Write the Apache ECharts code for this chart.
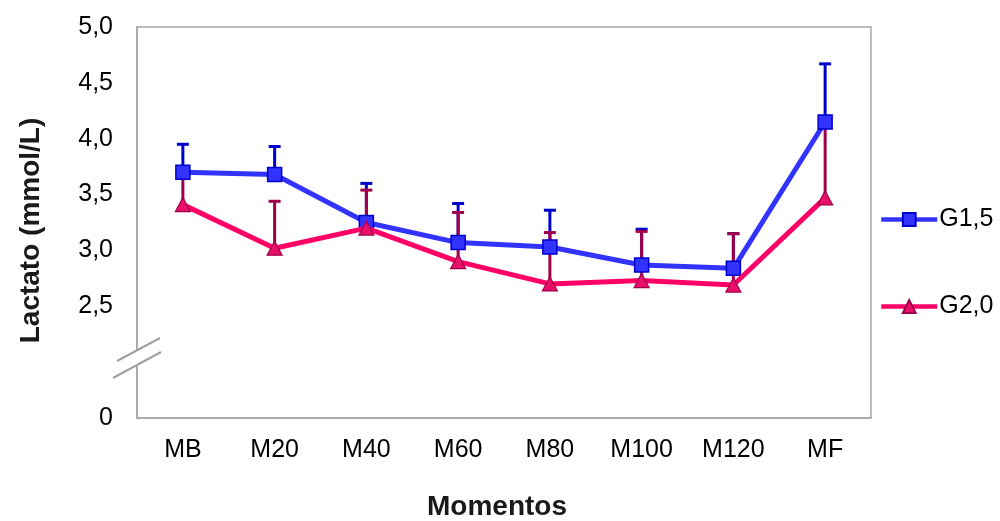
<!DOCTYPE html>
<html>
<head>
<meta charset="utf-8">
<script src="https://cdn.jsdelivr.net/npm/echarts@6/dist/echarts.min.js"></script>
<style>html,body{margin:0;padding:0;background:#fff;}#chart{width:1000px;height:521px;}</style>
</head>
<body>
<div id="chart"></div>
<script>
var categories = ['MB', 'M20', 'M40', 'M60', 'M80', 'M100', 'M120', 'MF'];
var g15Mean = [3.70, 3.68, 3.25, 3.07, 3.03, 2.87, 2.84, 4.15];
var g15Err  = [0.25, 0.25, 0.35, 0.35, 0.33, 0.32, 0.31, 0.52];
var g20Mean = [3.41, 3.02, 3.20, 2.90, 2.70, 2.73, 2.69, 3.47];
var g20Err  = [0.27, 0.42, 0.34, 0.44, 0.46, 0.44, 0.46, 0.63];
var seriesNames = ['G1,5', 'G2,0'];
var yMin = 1.5, yMax = 5.0, yStep = 0.5;
var yTickLabels = ['0', '', '2,5', '3,0', '3,5', '4,0', '4,5', '5,0'];
var xAxisTitle = 'Momentos';
var yAxisTitle = 'Lactato (mmol/L)';

function errData(mean, err) {
  return mean.map(function (m, i) { return [i, m, m + err[i]]; });
}
function errRender(color) {
  return function (params, api) {
    var x = api.value(0);
    var p0 = api.coord([x, api.value(1)]);
    var p1 = api.coord([x, api.value(2)]);
    var hw = 6;
    return {
      type: 'group',
      children: [
        { type: 'line', shape: { x1: p0[0], y1: p0[1], x2: p1[0], y2: p1[1] }, style: { stroke: color, lineWidth: 3 } },
        { type: 'line', shape: { x1: p1[0] - hw, y1: p1[1], x2: p1[0] + hw, y2: p1[1] }, style: { stroke: color, lineWidth: 3 } }
      ]
    };
  };
}

var chart = echarts.init(document.getElementById('chart'), null, { renderer: 'canvas' });
var font = '"Liberation Sans", Arial, sans-serif';
chart.setOption({
  animation: false,
  backgroundColor: '#ffffff',
  textStyle: { fontFamily: font },
  grid: { left: 137, right: 129, top: 27, bottom: 103, outerBoundsMode: 'none', containLabel: false,
          show: true, borderColor: '#a6a6a6', borderWidth: 1.5, backgroundColor: 'transparent' },
  legend: {
    orient: 'vertical', left: 874, top: 202,
    itemWidth: 56, itemHeight: 16, itemGap: 62,
    lineStyle: { width: 4.5 },
    textStyle: { fontSize: 25, color: '#000', fontFamily: font, padding: [0, 0, 0, -3] },
    data: [seriesNames[0], seriesNames[1]]
  },
  xAxis: {
    type: 'category', data: categories, boundaryGap: true,
    axisLine: { show: true, lineStyle: { color: '#a6a6a6', width: 1.5 } },
    axisTick: { show: false },
    axisLabel: { fontSize: 25, color: '#000', margin: 20, fontFamily: font },
    name: xAxisTitle, nameLocation: 'middle', nameGap: 75,
    nameTextStyle: { fontSize: 28, fontWeight: 'bold', color: '#1a1a1a', fontFamily: font, padding: [0, 14, 0, 0] }
  },
  yAxis: {
    type: 'value', min: yMin, max: yMax, interval: yStep,
    axisLine: { show: true, lineStyle: { color: '#a6a6a6', width: 1.5 } },
    axisTick: { show: false },
    splitLine: { show: false },
    axisLabel: {
      fontSize: 25, color: '#000', margin: 24, fontFamily: font, padding: [4, 0, 0, 0],
      formatter: function (v) { return yTickLabels[Math.round((v - yMin) / yStep)]; }
    },
    name: yAxisTitle, nameLocation: 'middle', nameGap: 92, nameRotate: 90,
    nameTextStyle: { fontSize: 28, fontWeight: 'bold', color: '#1a1a1a', fontFamily: font, padding: [0, 16, 0, 0] }
  },
  series: [
    {
      type: 'custom', name: 'errG15', data: errData(g15Mean, g15Err), renderItem: errRender('#0000cc'),
      encode: { x: 0, y: [1, 2] }, z: 1, silent: true
    },
    {
      type: 'custom', name: 'errG20', data: errData(g20Mean, g20Err), renderItem: errRender('#a0004a'),
      encode: { x: 0, y: [1, 2] }, z: 2, silent: true
    },
    {
      type: 'line', name: seriesNames[0], data: g15Mean, z: 3,
      symbol: 'rect', symbolSize: 14, showAllSymbol: true,
      lineStyle: { color: '#3333ff', width: 5 },
      itemStyle: { color: '#3333ff', borderColor: '#0000cc', borderWidth: 1.5 }
    },
    {
      type: 'line', name: seriesNames[1], data: g20Mean, z: 4,
      symbol: 'triangle', symbolSize: [15, 14], showAllSymbol: true,
      lineStyle: { color: '#ff0066', width: 5 },
      itemStyle: { color: '#e8106a', borderColor: '#a0004a', borderWidth: 1.2 }
    }
  ],
  graphic: [
    { type: 'polygon', z: 100, shape: { points: [[117, 362], [160, 337], [161, 352], [113, 379]] }, style: { fill: '#ffffff', stroke: null } },
    { type: 'line', z: 101, shape: { x1: 117, y1: 361, x2: 160, y2: 338 }, style: { stroke: '#a0a0a0', lineWidth: 2 } },
    { type: 'line', z: 101, shape: { x1: 113, y1: 378, x2: 161, y2: 352 }, style: { stroke: '#a0a0a0', lineWidth: 2 } }
  ]
});
</script>
</body>
</html>
